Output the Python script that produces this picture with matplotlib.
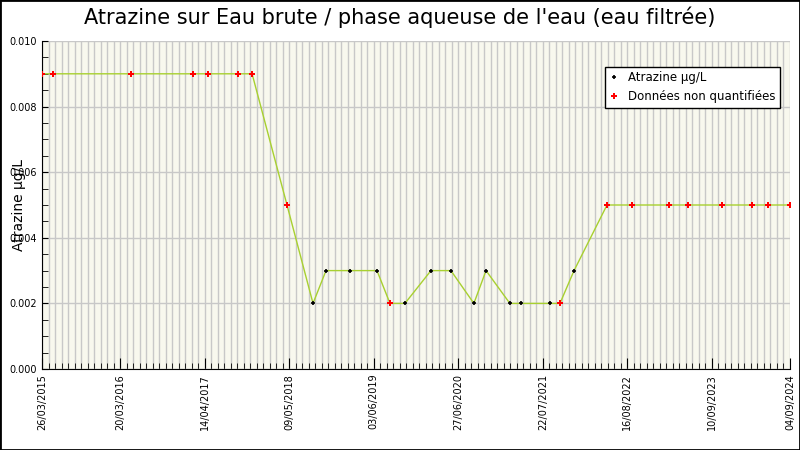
import matplotlib
matplotlib.use("Agg")
import matplotlib.pyplot as plt
import numpy as np

# sample dates, values and whether the value is non-quantified (red)
dates = ["2015-03-26", "2015-05-16", "2016-05-09", "2017-02-19", "2017-04-30",
         "2017-09-15", "2017-11-19", "2018-04-29", "2018-08-27", "2018-10-26",
         "2019-02-13", "2019-06-18", "2019-08-17", "2019-10-25", "2020-02-22",
         "2020-05-24", "2020-09-07", "2020-11-02", "2021-02-20", "2021-04-12",
         "2021-08-24", "2021-10-09", "2021-12-13", "2022-05-14", "2022-09-06",
         "2023-02-24", "2023-05-22", "2023-10-26", "2024-03-12", "2024-05-25",
         "2024-09-04"]
values = [0.009, 0.009, 0.009, 0.009, 0.009, 0.009, 0.009, 0.005, 0.002, 0.003,
          0.003, 0.003, 0.002, 0.002, 0.003, 0.003, 0.002, 0.003, 0.002, 0.002,
          0.002, 0.002, 0.003, 0.005, 0.005, 0.005, 0.005, 0.005, 0.005, 0.005,
          0.005]
nonquant = [1, 1, 1, 1, 1, 1, 1, 1, 0, 0,
            0, 0, 1, 0, 0, 0, 0, 0, 0, 0,
            0, 1, 0, 1, 1, 1, 1, 1, 1, 1,
            1]
tick_labels = ["26/03/2015", "20/03/2016", "14/04/2017", "09/05/2018", "03/06/2019",
               "27/06/2020", "22/07/2021", "16/08/2022", "10/09/2023", "04/09/2024"]

x = np.array(dates, dtype="datetime64[D]")
y = np.array(values)
nq = np.array(nonquant, dtype=bool)
label_days = np.array(["-".join(t.split("/")[::-1]) for t in tick_labels], dtype="datetime64[D]")

start = x[0]
end = x[-1]
minor_days = np.arange(label_days[1], end + 1, 30)
minor_days = np.concatenate([np.arange(label_days[1], start - 1, -30)[::-1], minor_days])

fig = plt.figure(figsize=(8, 4.5), dpi=100)
ax = fig.add_axes([42 / 800, 81 / 450, 748 / 800, 328 / 450])
ax.set_facecolor("#f8f8ee")

ax.plot(x, y, color="#a8d030", lw=1, zorder=2)
ax.plot(x[~nq], y[~nq], ls="none", marker="+", ms=3.5, mew=1.2, color="black",
        label="Atrazine µg/L", zorder=3)
ax.plot(x[nq], y[nq], ls="none", marker="P", ms=4.5, mew=0, color="red",
        label="Données non quantifiées", zorder=3)

ax.set_xlim(start, end)
ax.set_ylim(0, 0.010)
ax.set_xticks(minor_days, minor=True)
ax.set_xticks(label_days)
ax.set_xticklabels(tick_labels, rotation=90, fontsize=7)
ax.set_yticks(np.arange(0, 0.0101, 0.002))
ax.set_yticks(np.arange(0, 0.0101, 0.0005), minor=True)
ax.yaxis.set_major_formatter(matplotlib.ticker.FormatStrFormatter("%.3f"))
ax.tick_params(axis="y", labelsize=7)
ax.tick_params(which="both", direction="in", length=4)
ax.tick_params(axis="x", which="major", length=8)
ax.grid(True, which="both", axis="x", color="#c8c8c8", lw=1)
ax.grid(True, which="major", axis="y", color="#c8c8c8", lw=1)
ax.set_axisbelow(True)
for s in ["top", "right"]:
    ax.spines[s].set_visible(False)

ax.set_ylabel("Atrazine µg/L", fontsize=10, labelpad=-12)
fig.suptitle("Atrazine sur Eau brute / phase aqueuse de l'eau (eau filtrée)",
             fontsize=15, y=0.985)

leg = ax.legend(loc="upper right", bbox_to_anchor=(0.995, 0.94), fontsize=8.5,
                fancybox=False, framealpha=1, edgecolor="black", handlelength=0.8)
leg.get_frame().set_linewidth(1)

fig.patches.append(plt.Rectangle((0, 0), 1, 1, transform=fig.transFigure,
                                 fill=False, edgecolor="black", lw=2))
fig.savefig("out.png", dpi=100)
